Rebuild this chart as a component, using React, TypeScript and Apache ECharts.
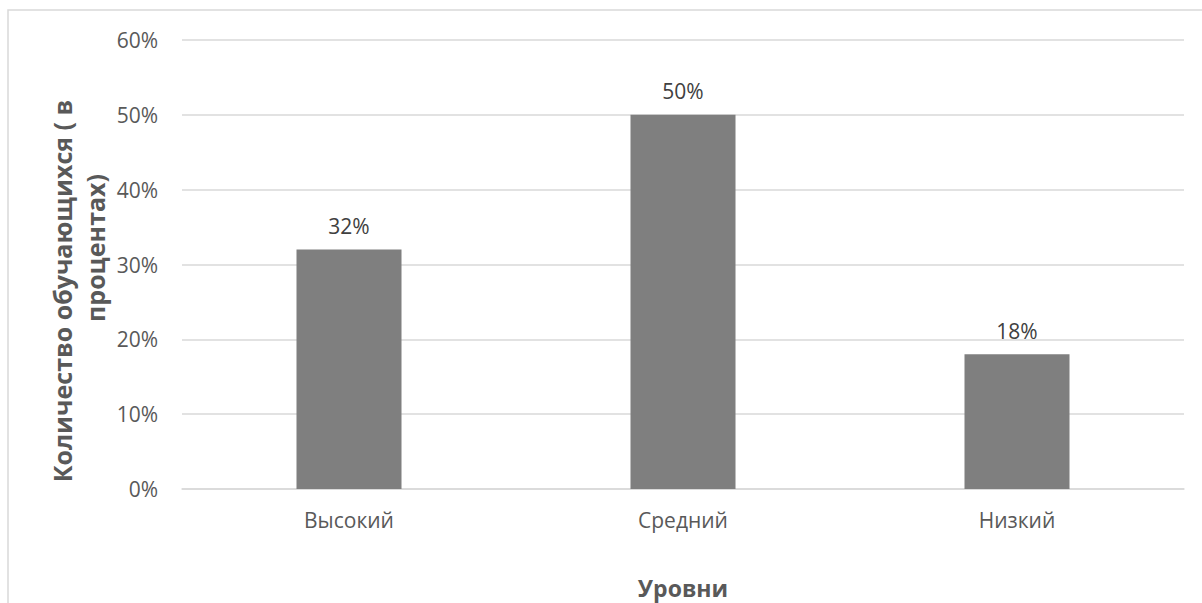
import React, { useEffect, useRef } from "react";
import * as echarts from "echarts";

const categories = ["Высокий", "Средний", "Низкий"];
const values = [32, 50, 18];
const yTicks = [0, 10, 20, 30, 40, 50, 60];
const yTitle1 = "Количество обучающихся ( в";
const yTitle2 = "процентах)";
const xTitle = "Уровни";

export default function App() {
  const ref = useRef<HTMLDivElement>(null);
  useEffect(() => {
    if (!ref.current) return;
    const chart = echarts.init(ref.current, undefined, { renderer: "svg" });
    const font = "'Open Sans', sans-serif";
    chart.setOption({
      animation: false,
      backgroundColor: "#ffffff",
      grid: { left: 182, right: 18, top: 40, bottom: 114, containLabel: false },
      xAxis: {
        type: "category",
        data: categories,
        axisLine: { show: true, lineStyle: { color: "#d9d9d9", width: 1.5 } },
        axisTick: { show: false },
        axisLabel: { color: "#595959", fontSize: 21, fontFamily: font, margin: 20 },
      },
      yAxis: {
        type: "value",
        min: yTicks[0],
        max: yTicks[yTicks.length - 1],
        interval: 10,
        axisLine: { show: false },
        axisTick: { show: false },
        axisLabel: {
          color: "#595959",
          fontSize: 21,
          fontFamily: font,
          margin: 24,
          formatter: (v: number) => v + "%",
        },
        splitLine: { lineStyle: { color: "#d9d9d9", width: 1.5 } },
      },
      series: [
        {
          type: "bar",
          data: values,
          barWidth: 105,
          itemStyle: { color: "#7f7f7f" },
          label: {
            show: true,
            position: "top",
            distance: 13,
            color: "#404040",
            fontSize: 21,
            fontFamily: font,
            formatter: (p: any) => p.value + "%",
          },
        },
      ],
      graphic: [
        {
          type: "rect",
          shape: { x: 8, y: 10, width: 1400, height: 800 },
          style: { fill: "none", stroke: "#d9d9d9", lineWidth: 1.5 },
          silent: true,
        },
        {
          type: "text",
          x: 62,
          y: 291,
          rotation: Math.PI / 2,
          style: {
            text: yTitle1,
            fill: "#595959",
            fontSize: 25,
            fontWeight: "bold",
            fontFamily: font,
            align: "center",
            verticalAlign: "middle",
          },
        },
        {
          type: "text",
          x: 95,
          y: 248,
          rotation: Math.PI / 2,
          style: {
            text: yTitle2,
            fill: "#595959",
            fontSize: 25,
            fontWeight: "bold",
            fontFamily: font,
            align: "center",
            verticalAlign: "middle",
          },
        },
        {
          type: "text",
          x: 683,
          y: 588,
          style: {
            text: xTitle,
            fill: "#595959",
            fontSize: 23,
            fontWeight: "bold",
            fontFamily: font,
            align: "center",
            verticalAlign: "middle",
          },
        },
      ],
    });
    return () => chart.dispose();
  }, []);
  return (
    <div
      ref={ref}
      style={{ position: "fixed", left: 0, top: 0, width: 1202, height: 603 }}
    />
  );
}
